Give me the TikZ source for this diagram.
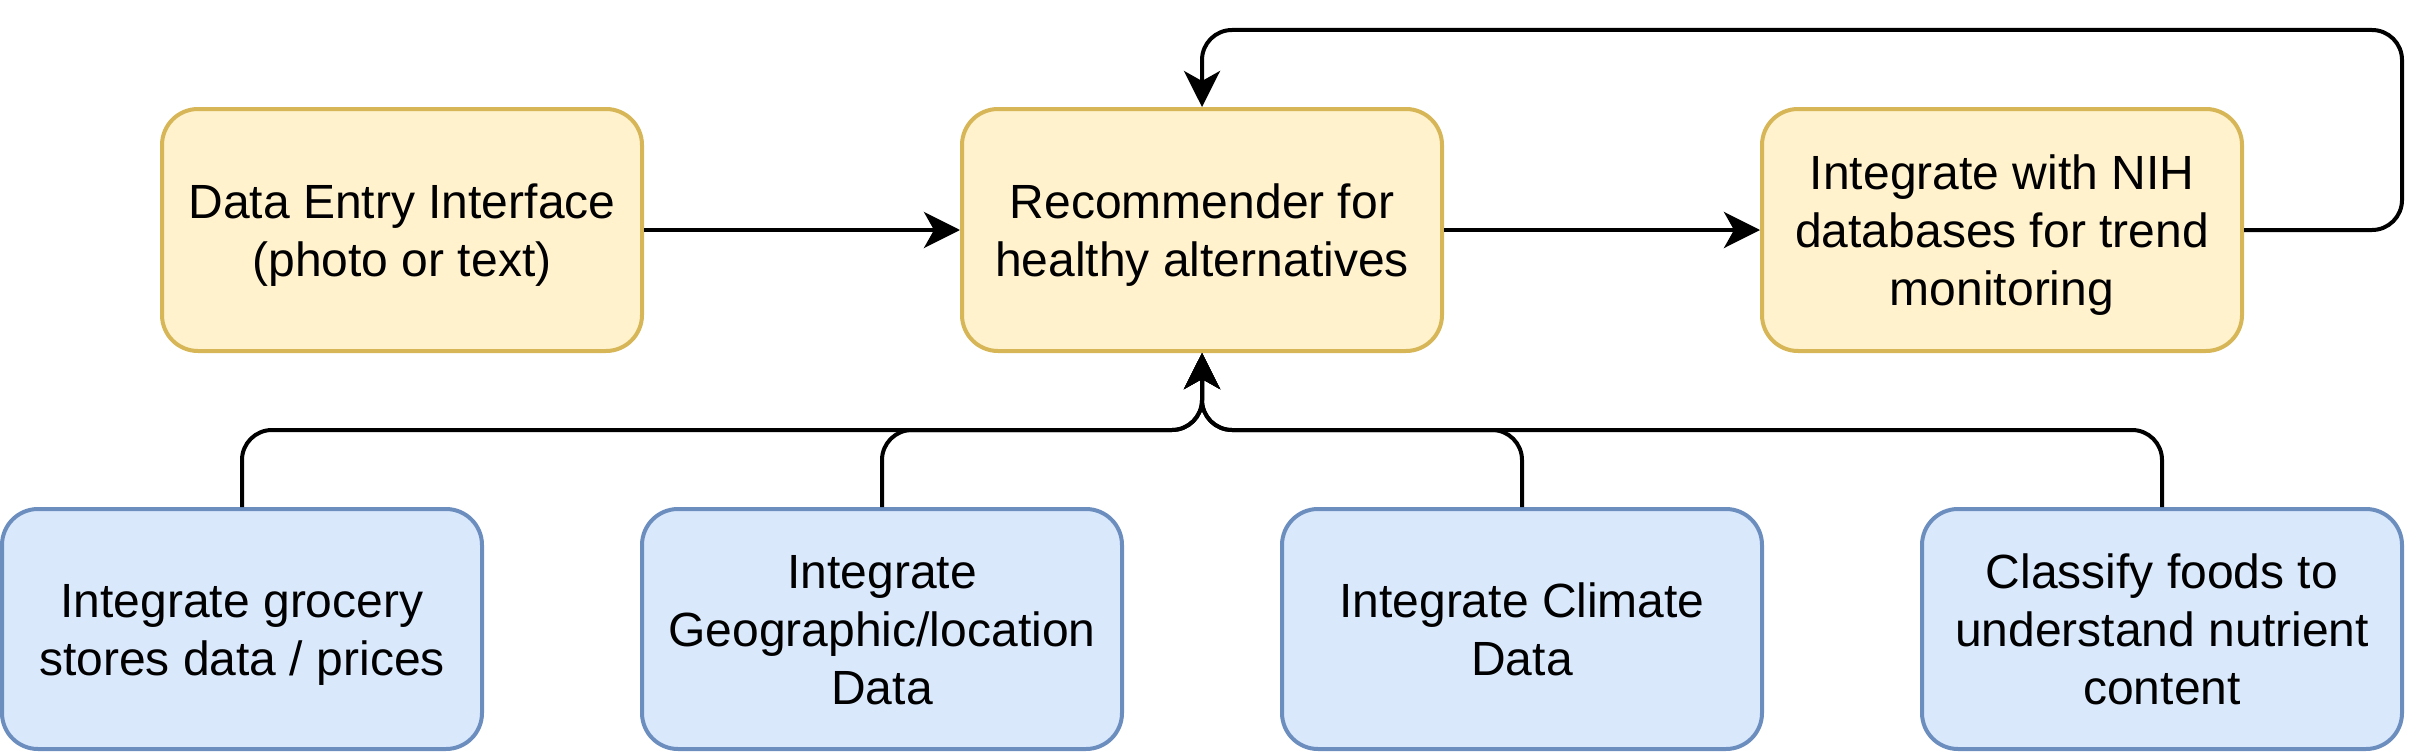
\documentclass[tikz,border=0pt]{standalone}
\usepackage{fontspec}
\setmainfont{Liberation Sans}
\usetikzlibrary{arrows.meta}
\definecolor{yfill}{RGB}{255,242,204}
\definecolor{ydraw}{RGB}{214,182,86}
\definecolor{bfill}{RGB}{218,232,252}
\definecolor{bdraw}{RGB}{108,142,191}
\newcommand{\boxtext}[1]{\raisebox{-6pt}[\height][\depth]{\begin{tabular}{@{}c@{}}#1\end{tabular}}}
\begin{document}
\begin{tikzpicture}[x=1pt,y=-1pt,
  box/.style={rounded corners=36pt, line width=4pt, minimum width=480pt, inner sep=0pt, font=\fontsize{48pt}{57.6pt}\selectfont},
  ybox/.style={box, draw=ydraw, fill=yfill, minimum height=242pt},
  bbox/.style={box, draw=bdraw, fill=bfill, minimum height=240pt},
  conn/.style={line width=4pt, draw=black, rounded corners=30pt, -{Stealth[length=36pt,width=36pt,inset=10pt]}}]
\useasboundingbox (0,0) rectangle (2436,752);
\node[ybox] (b1) at (402,230) {\boxtext{Data Entry Interface\\(photo or text)}};
\node[ybox] (b2) at (1202,230) {\boxtext{Recommender for\\healthy alternatives}};
\node[ybox] (b3) at (2002,230) {\boxtext{Integrate with NIH\\databases for trend\\monitoring}};
\node[bbox] (c1) at (242,629) {\boxtext{Integrate grocery\\stores data / prices}};
\node[bbox] (c2) at (882,629) {\boxtext{Integrate\\Geographic/location\\Data}};
\node[bbox] (c3) at (1522,629) {\boxtext{Integrate Climate\\Data}};
\node[bbox] (c4) at (2162,629) {\boxtext{Classify foods to\\understand nutrient\\content}};
\coordinate (bus) at (1202,430);
\coordinate (loopR) at (2402,230);
\coordinate (top) at (1202,30);
\draw[conn] (b1.east) -- (b2.west);
\draw[conn] (b2.east) -- (b3.west);
\draw[conn] (b3.east) -- (loopR) |- (top) -- (b2.north);
\draw[conn] (c1.north) |- (bus) -- (b2.south);
\draw[conn] (c2.north) |- (bus) -- (b2.south);
\draw[conn] (c3.north) |- (bus) -- (b2.south);
\draw[conn] (c4.north) |- (bus) -- (b2.south);
\end{tikzpicture}
\end{document}
